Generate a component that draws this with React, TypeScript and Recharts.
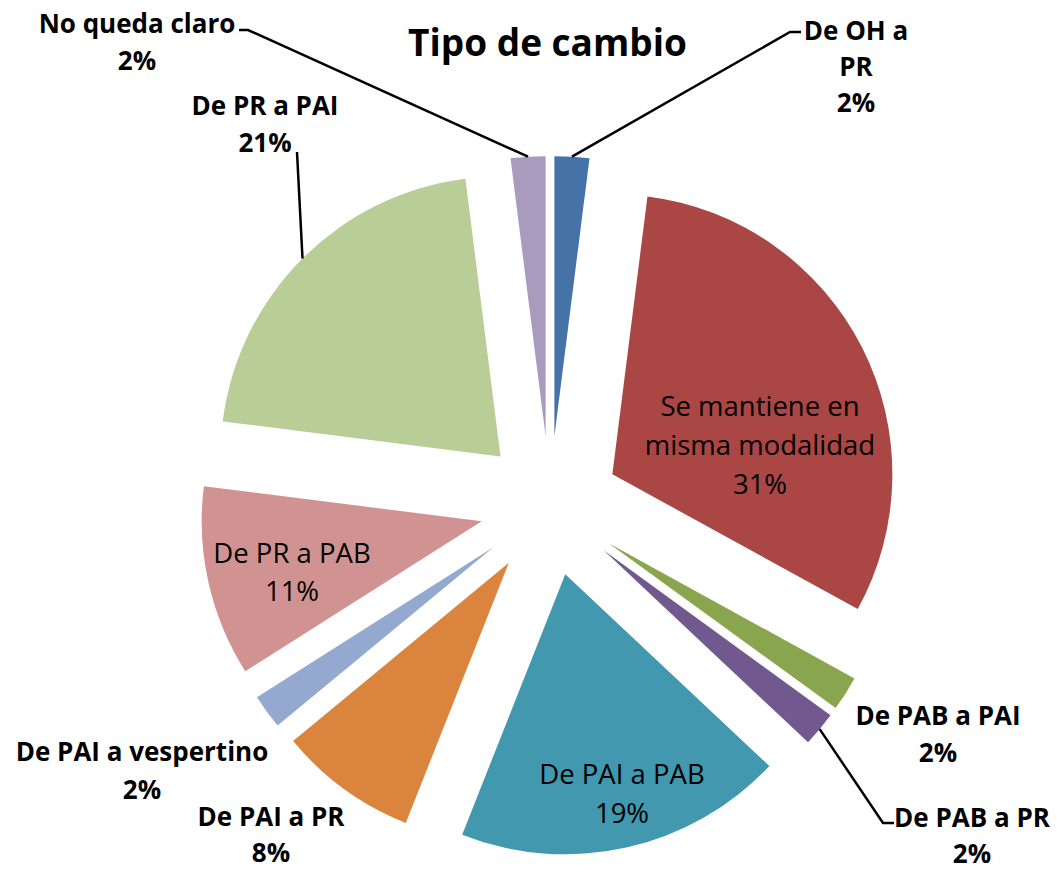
import { PieChart, Pie, Cell, Sector } from 'recharts';

const categories = [
  'De OH a PR',
  'Se mantiene en misma modalidad',
  'De PAB a PAI',
  'De PAB a PR',
  'De PAI a PAB',
  'De PAI a PR',
  'De PAI a vespertino',
  'De PR a PAB',
  'De PR a PAI',
  'No queda claro',
];
const shares = [2, 31, 2, 2, 19, 8, 2, 11, 21, 2];

// how Excel wrapped each category label
const wrappedNames = [
  ['De OH a', 'PR'],
  ['Se mantiene en', 'misma modalidad'],
  ['De PAB a PAI'],
  ['De PAB a PR'],
  ['De PAI a PAB'],
  ['De PAI a PR'],
  ['De PAI a vespertino'],
  ['De PR a PAB'],
  ['De PR a PAI'],
  ['No queda claro'],
];

const SLICE_COLORS = [
  '#4572A7',
  '#AA4643',
  '#89A54E',
  '#71588F',
  '#4198AF',
  '#DB843D',
  '#93A9CF',
  '#D19392',
  '#B9CD96',
  '#A99BBD',
];

const FONT = '"Open Sans", "DejaVu Sans", sans-serif';
const EXPLODE = 0.25; // fraction of the radius, like Excel's point explosion
const RADIAN = Math.PI / 180;

// label placement (text centre of first line) + optional leader elbows
const LABEL_LAYOUT = [
  { x: 856, y: 30, gap: 36, inside: false, leader: [[790, 32], [801, 32]] },
  { x: 760, y: 405, gap: 39, inside: true },
  { x: 938, y: 715, gap: 37, inside: false },
  { x: 972, y: 817, gap: 36, inside: false, leader: [[883, 823], [894, 823]] },
  { x: 622, y: 773, gap: 39, inside: true },
  { x: 271, y: 816, gap: 36, inside: false },
  { x: 142, y: 751, gap: 38, inside: false },
  { x: 292, y: 552, gap: 38, inside: true },
  { x: 265, y: 105, gap: 37, inside: false, leader: [[297, 152]] },
  { x: 137, y: 23, gap: 37, inside: false, leader: [[248, 30], [239, 30]] },
];

const chartData = categories.map((name, i) => ({ name, value: shares[i] }));

function polar(cx: number, cy: number, r: number, angle: number) {
  return {
    x: cx + Math.cos(-angle * RADIAN) * r,
    y: cy + Math.sin(-angle * RADIAN) * r,
  };
}

function ExplodedSector(props: any) {
  const { cx, cy, midAngle, outerRadius } = props;
  const c = polar(cx, cy, outerRadius * EXPLODE, midAngle);
  return <Sector {...props} cx={c.x} cy={c.y} stroke="none" />;
}

function renderLabel(props: any) {
  const { cx, cy, midAngle, outerRadius, index } = props;
  const layout = LABEL_LAYOUT[index];
  const lines = [...wrappedNames[index], `${shares[index]}%`];
  let leader = null;
  if (layout.leader) {
    const c = polar(cx, cy, outerRadius * EXPLODE, midAngle);
    const p = polar(c.x, c.y, outerRadius, midAngle);
    const pts = [[p.x, p.y], ...layout.leader].map((q) => q.join(',')).join(' ');
    leader = <polyline points={pts} fill="none" stroke="#000" strokeWidth={2.5} />;
  }
  return (
    <g key={`lbl-${index}`}>
      {leader}
      {lines.map((t, j) => (
        <text
          key={j}
          x={layout.x}
          y={layout.y + j * layout.gap}
          textAnchor="middle"
          dominantBaseline="central"
          fill="#000"
          fontFamily={FONT}
          fontSize={layout.inside ? 27.5 : 26}
          fontWeight={layout.inside ? 400 : 700}
        >
          {t}
        </text>
      ))}
    </g>
  );
}

export default function App() {
  return (
    <div
      style={{
        position: 'absolute',
        left: 0,
        top: 0,
        width: 1057,
        height: 872,
        background: '#fff',
      }}
    >
      <div
        style={{
          position: 'absolute',
          left: 0,
          width: 1095,
          top: 17,
          textAlign: 'center',
          fontFamily: FONT,
          fontWeight: 700,
          fontSize: 37,
          lineHeight: '50px',
          color: '#000',
        }}
      >
        Tipo de cambio
      </div>
      <PieChart width={1057} height={872} margin={{ top: 0, right: 0, bottom: 0, left: 0 }}>
        <Pie
          data={chartData}
          dataKey="value"
          nameKey="name"
          cx={550}
          cy={506}
          outerRadius={280}
          startAngle={90}
          endAngle={-270}
          stroke="none"
          shape={ExplodedSector}
          label={renderLabel}
          labelLine={false}
          isAnimationActive={false}
        >
          {chartData.map((_d, i) => (
            <Cell key={i} fill={SLICE_COLORS[i]} />
          ))}
        </Pie>
      </PieChart>
    </div>
  );
}
